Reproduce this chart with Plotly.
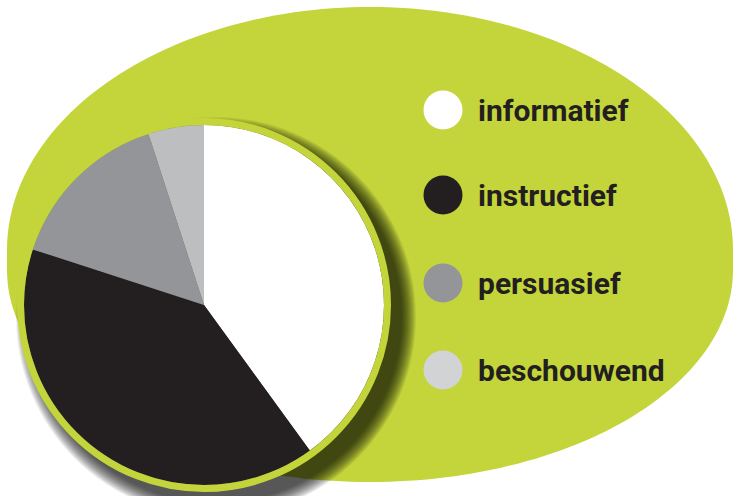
import math
import plotly.graph_objects as go

# ---- data ----
categories = ["informatief", "instructief", "persuasief", "beschouwend"]
shares = [40, 40, 15, 5]
slice_colors = ["#ffffff", "#231f20", "#939598", "#bcbec0"]
legend_colors = ["#ffffff", "#231f20", "#939598", "#d1d3d4"]

# ---- layout geometry (pixels) ----
W, H = 733, 496
LIME = "#c4d53b"
cx, cy, r = 204, 305, 180
ring_w = 7
legend_x = 443
legend_y = [110, 195, 283, 370]
text_x = 476

# background blob: upper half-ellipse + lower half-ellipse (pixel coords)
ex, ea = 370, 363
top_cy, top_b = 250, 243
bot_cy, bot_b = 270, 212


def blob_path(n=120):
    pts = []
    for i in range(n + 1):
        t = math.pi - math.pi * i / n
        pts.append((ex + ea * math.cos(t), top_cy - top_b * math.sin(t)))
    for i in range(n + 1):
        t = math.pi * i / n
        pts.append((ex + ea * math.cos(t), bot_cy + bot_b * math.sin(t)))
    s = "M " + " L ".join(f"{x:.2f},{y:.2f}" for x, y in pts)
    return s + " Z"


fig = go.Figure()

fig.add_trace(go.Pie(
    values=shares, labels=categories, sort=False, direction="clockwise",
    rotation=0, marker=dict(colors=slice_colors, line=dict(width=0)),
    textinfo="none", showlegend=False, hoverinfo="label+percent",
    domain=dict(x=[(cx - r) / W, (cx + r) / W],
                y=[(H - cy - r) / H, (H - cy + r) / H]),
))

fig.add_trace(go.Scatter(
    x=[legend_x] * len(categories), y=legend_y, mode="markers",
    marker=dict(size=39, color=legend_colors, line=dict(width=0)),
    text=categories, hoverinfo="text", showlegend=False, cliponaxis=False,
))

shapes = [dict(type="path", path=blob_path(), xref="x", yref="y",
               fillcolor=LIME, line=dict(width=0), layer="below")]

# soft drop shadow (stack of translucent circles)
sdx, sdy = 12, 12
for rr in range(r + ring_w + 13, r + ring_w - 2, -1):
    shapes.append(dict(type="circle", xref="x", yref="y", layer="below",
                       x0=cx + sdx - rr, x1=cx + sdx + rr,
                       y0=cy + sdy - rr, y1=cy + sdy + rr,
                       fillcolor="rgba(0,0,0,0.065)", line=dict(width=0)))

rr = r + ring_w / 2
shapes.append(dict(type="circle", xref="x", yref="y", layer="above",
                   x0=cx - rr, x1=cx + rr, y0=cy - rr, y1=cy + rr,
                   fillcolor="rgba(0,0,0,0)", line=dict(color=LIME, width=ring_w)))

annotations = [dict(x=text_x, y=yy, xref="x", yref="y", text=t, showarrow=False,
                    xanchor="left", yanchor="middle",
                    font=dict(family="Roboto", size=30, color="#231f20", weight=700))
               for t, yy in zip(categories, legend_y)]

fig.update_layout(
    width=W, height=H, margin=dict(l=0, r=0, t=0, b=0),
    paper_bgcolor="white", plot_bgcolor="rgba(0,0,0,0)",
    xaxis=dict(range=[0, W], visible=False, fixedrange=True),
    yaxis=dict(range=[H, 0], visible=False, fixedrange=True),
    shapes=shapes, annotations=annotations, showlegend=False,
)

fig.write_html("out.html", config={"displayModeBar": False},
               post_script="document.body.style.margin='0px';")
